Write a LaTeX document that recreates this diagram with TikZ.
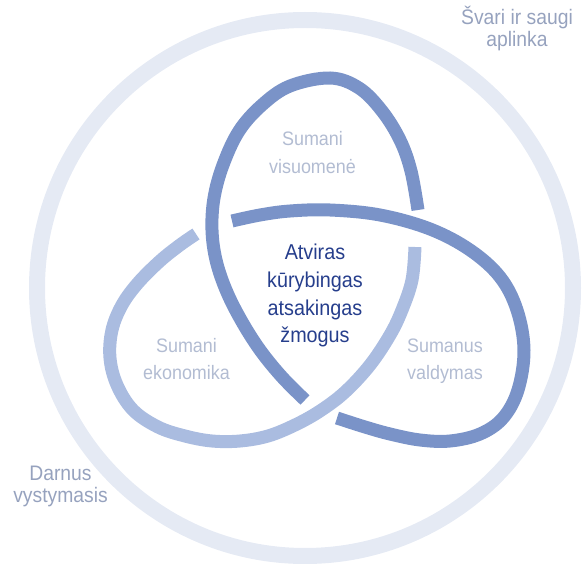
\documentclass[tikz,border=0pt]{standalone}
\usepackage{fontspec}
\usepackage{xcolor}
\usepackage{tikz}
\newfontfamily\narrowsans{Liberation Sans}[FakeStretch=0.92]
\definecolor{RingPale}{RGB}{229,234,244}
\definecolor{KnotDark}{RGB}{122,147,200}
\definecolor{KnotLight}{RGB}{170,188,224}
\definecolor{LabelGrey}{RGB}{178,188,210}
\definecolor{RimGrey}{RGB}{150,162,190}
\definecolor{CoreBlue}{RGB}{38,62,140}

\begin{document}
\begin{tikzpicture}[x=1pt,y=-1pt,
    ringband/.style={draw=RingPale,line width=16pt},
    darkband/.style={draw=KnotDark,line width=13pt},
    lightband/.style={draw=KnotLight,line width=13pt},
    corelabel/.style={font=\narrowsans\fontsize{21.5}{28}\selectfont,text=CoreBlue,
                      align=center,anchor=base,inner sep=0pt},
    arealabel/.style={font=\narrowsans\fontsize{19.5}{28}\selectfont,text=LabelGrey,
                      align=center,anchor=base,inner sep=0pt},
    rimlabel/.style={font=\narrowsans\fontsize{21}{22}\selectfont,text=RimGrey,
                     align=center,anchor=base,inner sep=0pt}
  ]
  \useasboundingbox (0,0) rectangle (582,567);
  \draw[ringband] (305,288) circle (268);

  % visuomene lobe
  \draw[darkband] plot[smooth,tension=0.6] coordinates {
    (305,400) (282,377) (260,350) (241,320) (226,290) (216,260) (212,230)
    (214,198) (223,165) (239,131) (262,105) (290,86) (330,78) (359,88)
    (382,111) (400,140) (411,171) (418,210)};
  % ekonomika lobe
  \draw[lightband] plot[smooth,tension=0.6] coordinates {
    (415,247) (412,280) (402,310) (390,335) (370,365) (345,392) (320,411)
    (295,425) (268,436) (240,441) (212,441) (185,436) (158,427) (133,410)
    (117,385) (110,358) (112,330) (122,305) (138,283) (160,261) (180,245)
    (196,234)};
  % valdymas lobe
  \draw[darkband] plot[smooth,tension=0.6] coordinates {
    (232,221) (260,215) (290,211) (330,210) (380,215) (430,229) (470,250)
    (500,277) (517,310) (524,350) (518,390) (503,418) (480,434) (450,441)
    (420,440) (390,434) (365,427) (337,418)};

  \node[corelabel] (zmogus) at (315,343) {Atviras\\kūrybingas\\atsakingas\\žmogus};
  \node[arealabel] (visuomene) at (312.5,174) {Sumani\\visuomenė};
  \node[arealabel] (ekonomika) at (186.5,380) {Sumani\\ekonomika};
  \node[arealabel] (valdymas) at (445,380) {Sumanus\\valdymas};
  \node[rimlabel] (aplinka) at (517,47) {Švari ir saugi\\aplinka};
  \node[rimlabel] (vystymasis) at (60.5,502) {Darnus\\vystymasis};
\end{tikzpicture}
\end{document}
